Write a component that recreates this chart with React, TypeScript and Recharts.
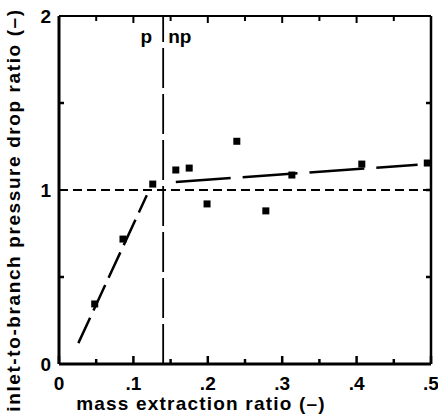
import React from "react";
import { ScatterChart, Scatter, XAxis, YAxis, ZAxis, ReferenceLine } from "recharts";

const pointsX = [0.048, 0.086, 0.126, 0.157, 0.175, 0.199, 0.239, 0.278, 0.313, 0.407, 0.495];
const pointsY = [0.345, 0.718, 1.034, 1.115, 1.126, 0.92, 1.28, 0.88, 1.086, 1.149, 1.155];

// fitted lines, pressurised (p) and non-pressurised (np) regions
const fitPX = [0.026, 0.118];
const fitPY = [0.12, 0.97];
const fitNpX = [0.157, 0.482];
const fitNpY = [1.046, 1.145];

const xTicks = [0, 0.05, 0.1, 0.15, 0.2, 0.25, 0.3, 0.35, 0.4, 0.45, 0.5];
const xMajor = [0, 0.1, 0.2, 0.3, 0.4, 0.5];
const yTicks = [0, 0.5, 1, 1.5, 2];
const yMajor = [0, 1, 2];
const boundary = 0.14;

const points = pointsX.map((x, i) => ({ x, y: pointsY[i] }));
const fitP = fitPX.map((x, i) => ({ x, y: fitPY[i] }));
const fitNp = fitNpX.map((x, i) => ({ x, y: fitNpY[i] }));

const FONT = "'Liberation Sans', Arial, sans-serif";

const isMajor = (list: number[], v: number) => list.some((m) => Math.abs(m - v) < 1e-9);

const fmtX = (v: number) => (v === 0 ? "0" : String(v).replace(/^0/, ""));

const BottomTick = (props: any) => {
  const { x, y, payload } = props;
  const major = isMajor(xMajor, payload.value);
  return (
    <g>
      <line x1={x} x2={x} y1={y} y2={y - (major ? 8 : 5)} stroke="#000" strokeWidth={2.5} />
      {major && (
        <text x={x} y={y + 26} textAnchor="middle" fontFamily={FONT} fontWeight="bold" fontSize={19} fill="#000">
          {fmtX(payload.value)}
        </text>
      )}
    </g>
  );
};

const TopTick = (props: any) => {
  const { x, y, payload } = props;
  const major = isMajor(xMajor, payload.value);
  if (payload.value === 0 || payload.value === 0.5) return <g />;
  return <line x1={x} x2={x} y1={y} y2={y + (major ? 7 : 5)} stroke="#000" strokeWidth={2} />;
};

const LeftTick = (props: any) => {
  const { x, y, payload } = props;
  const major = isMajor(yMajor, payload.value);
  return (
    <g>
      {!major && <line x1={x} x2={x + 5} y1={y} y2={y} stroke="#000" strokeWidth={2.5} />}
      {major && (
        <text x={x - 8} y={y + 7} textAnchor="end" fontFamily={FONT} fontWeight="bold" fontSize={19} fill="#000">
          {payload.value}
        </text>
      )}
    </g>
  );
};

const RightTick = (props: any) => {
  const { x, y, payload } = props;
  if (payload.value === 0 || payload.value === 2) return <g />;
  return <line x1={x} x2={x - 5} y1={y} y2={y} stroke="#000" strokeWidth={2.5} />;
};

const YTitle = (props: any) => {
  const vb = props.viewBox;
  const cy = vb.y + vb.height / 2 + 20;
  return (
    <text
      x={20}
      y={cy}
      transform={`rotate(-90, 20, ${cy})`}
      textAnchor="middle"
      fontFamily={FONT}
      fontWeight="bold"
      fontSize={19}
      letterSpacing={1.6}
      fill="#000"
    >
      inlet-to-branch pressure drop ratio (–)
    </text>
  );
};

const XTitle = (props: any) => {
  const vb = props.viewBox;
  return (
    <text
      x={vb.x + vb.width / 2 - 44}
      y={410}
      textAnchor="middle"
      fontFamily={FONT}
      fontWeight="bold"
      fontSize={19}
      letterSpacing={1.2}
      fill="#000"
    >
      mass extraction ratio (–)
    </text>
  );
};

const RegionLabel = (props: any) => {
  const vb = props.viewBox;
  return (
    <g fontFamily={FONT} fontWeight="bold" fontSize={19} fill="#000">
      <text x={vb.x - 11} y={vb.y + 27} textAnchor="end">p</text>
      <text x={vb.x + 5} y={vb.y + 27} textAnchor="start">np</text>
    </g>
  );
};

const SquareDot = (props: any) => {
  const { cx, cy } = props;
  return <rect x={cx - 3.5} y={cy - 3.5} width={7} height={7} fill="#000" />;
};

const NoDot = () => <g />;

export default function App() {
  return (
    <div style={{ position: "absolute", left: 0, top: 0, background: "#fff" }}>
      <ScatterChart width={438} height={420} margin={{ top: 0, right: 0, bottom: 0, left: 0 }}>
        <ZAxis range={[49, 49]} />
        <XAxis
          type="number"
          dataKey="x"
          domain={[0, 0.5]}
          ticks={xTicks}
          interval={0}
          height={56}
          tickSize={0}
          tickMargin={0}
          tickLine={false}
          axisLine={{ stroke: "#000", strokeWidth: 3 }}
          tick={<BottomTick />}
          label={<XTitle />}
        />
        <XAxis
          xAxisId="top"
          orientation="top"
          type="number"
          dataKey="x"
          domain={[0, 0.5]}
          ticks={xTicks}
          interval={0}
          height={16}
          tickSize={0}
          tickMargin={0}
          tickLine={false}
          axisLine={{ stroke: "#000", strokeWidth: 2 }}
          tick={<TopTick />}
        />
        <YAxis
          type="number"
          dataKey="y"
          domain={[0, 2]}
          ticks={yTicks}
          interval={0}
          width={59}
          tickSize={0}
          tickMargin={0}
          tickLine={false}
          axisLine={{ stroke: "#000", strokeWidth: 3 }}
          tick={<LeftTick />}
          label={<YTitle />}
        />
        <YAxis
          yAxisId="right"
          orientation="right"
          type="number"
          dataKey="y"
          domain={[0, 2]}
          ticks={yTicks}
          interval={0}
          width={7}
          tickSize={0}
          tickMargin={0}
          tickLine={false}
          axisLine={{ stroke: "#000", strokeWidth: 2.5 }}
          tick={<RightTick />}
        />
        <ReferenceLine y={1} stroke="#000" strokeWidth={2} strokeDasharray="9 5" />
        <ReferenceLine
          x={boundary}
          stroke="#000"
          strokeWidth={1.8}
          strokeDasharray="40 6"
          label={<RegionLabel />}
        />
        <Scatter
          data={fitP}
          line={{ stroke: "#000", strokeWidth: 2.5, strokeDasharray: "28 8" }}
          shape={<NoDot />}
          isAnimationActive={false}
        />
        <Scatter
          data={fitNp}
          line={{ stroke: "#000", strokeWidth: 2.5, strokeDasharray: "55 12" }}
          shape={<NoDot />}
          isAnimationActive={false}
        />
        {/* invisible copy bound to the frame axes so their ticks get drawn */}
        <Scatter
          data={points}
          xAxisId="top"
          yAxisId="right"
          shape={<NoDot />}
          legendType="none"
          isAnimationActive={false}
        />
        <Scatter data={points} fill="#000" shape={<SquareDot />} isAnimationActive={false} />
      </ScatterChart>
    </div>
  );
}
